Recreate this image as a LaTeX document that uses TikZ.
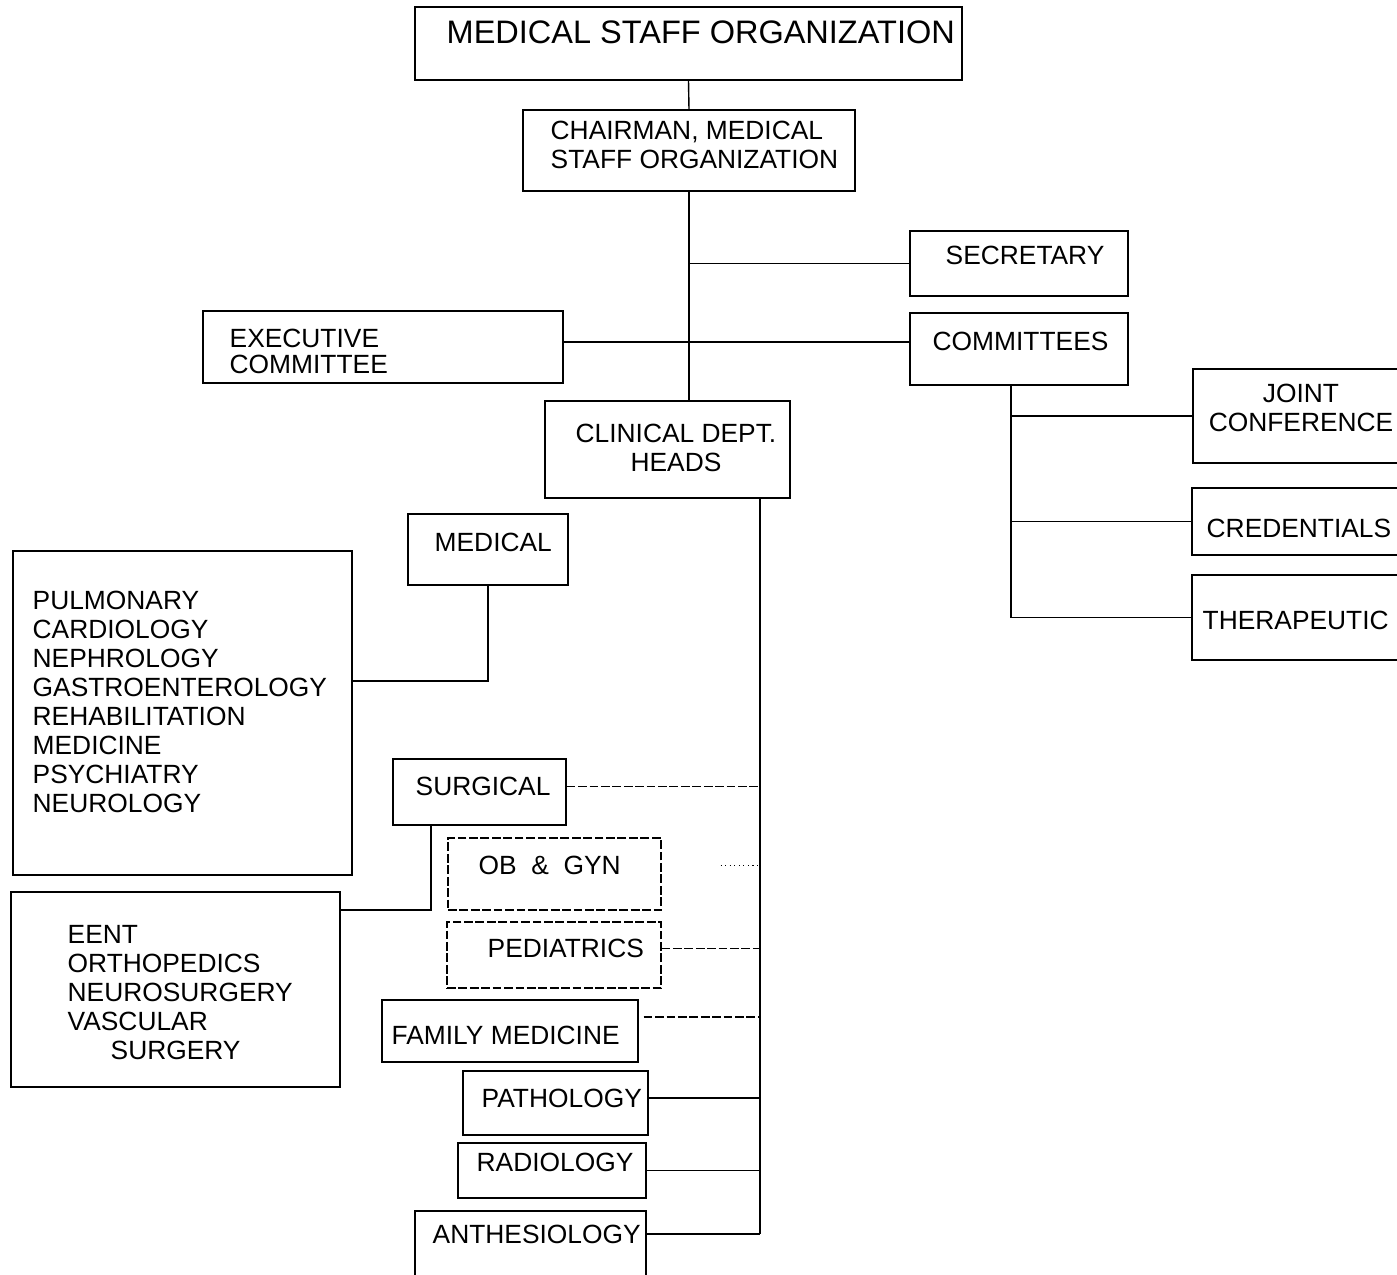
\documentclass[tikz,border=0pt]{standalone}
\usepackage{fontspec}
\setmainfont{Liberation Sans}
\usetikzlibrary{fit}
\newcommand{\bodyfont}{\fontsize{15}{16.5}\selectfont}
\newcommand{\titlefont}{\fontsize{18.5}{21}\selectfont}

\begin{document}
\begin{tikzpicture}[x=0.02cm,y=-0.02cm,line width=0.8pt,
  box/.style={draw,inner sep=0pt},
  faint/.style={line width=0.6pt,dash pattern=on 5pt off 1.5pt},
  lbl/.style={anchor=north west,inner sep=0pt,align=left,font=\bodyfont}]
\useasboundingbox (0,0) rectangle (1397,1275);
\clip (0,0) rectangle (1397,1275);

% top
\node[box,fit={(415,7) (962,80)}] (mso) {};
\node[lbl,font=\titlefont] (msotxt) at (446,20) {MEDICAL STAFF ORGANIZATION};
\node[box,fit={(523,110) (855,191)}] (chair) {};
\node[lbl] (chairtxt) at (550,120) {CHAIRMAN, MEDICAL\\STAFF ORGANIZATION};

\node[box,fit={(910,231) (1128,296)}] (sec) {};
\node[lbl] (sectxt) at (945,245) {SECRETARY};
\node[box,fit={(910,313) (1128,385)}] (comm) {};
\node[lbl] (commtxt) at (932,331) {COMMITTEES};
\node[box,fit={(203,311) (563,383)}] (exec) {};
\node[lbl] (exectxt) at (229,328) {EXECUTIVE\\[-1.5pt]COMMITTEE};
\node[box,fit={(545,401) (790,498)}] (clin) {};
\node[lbl,anchor=north,align=center] (clintxt) at (676,423) {CLINICAL DEPT.\\HEADS};

% committees
\node[box,fit={(1193,369) (1420,463)}] (joint) {};
\node[lbl,anchor=north,align=center] (jointtxt) at (1301,383) {JOINT\\CONFERENCE};
\node[box,fit={(1192,488) (1420,555)}] (cred) {};
\node[lbl] (credtxt) at (1206,518) {CREDENTIALS};
\node[box,fit={(1192,575) (1420,660)}] (ther) {};
\node[lbl] (thertxt) at (1202,610) {THERAPEUTIC};

% departments
\node[box,fit={(408,514) (568,585)}] (med) {};
\node[lbl] (medtxt) at (434,532) {MEDICAL};
\node[box,fit={(13,551) (352,875)}] (medspec) {};
\node[lbl] (medspectxt) at (32,590) {PULMONARY\\CARDIOLOGY\\NEPHROLOGY\\GASTROENTEROLOGY\\REHABILITATION\\MEDICINE\\PSYCHIATRY\\NEUROLOGY};
\node[box,fit={(393,759) (566,825)}] (surg) {};
\node[lbl] (surgtxt) at (415,776) {SURGICAL};
\node[box,fit={(11,892) (340,1087)}] (surgspec) {};
\node[lbl] (surgspectxt) at (67,925) {EENT\\ORTHOPEDICS\\NEUROSURGERY\\VASCULAR\\\hspace*{0.86cm}SURGERY};
\node[box,faint,fit={(448,838) (661,910)}] (ob) {};
\node[lbl] (obtxt) at (478,855) {OB~~\&~~GYN};
\node[box,faint,fit={(447,922) (661,988)}] (ped) {};
\node[lbl] (pedtxt) at (487,938) {PEDIATRICS};
\node[box,fit={(382,1000) (638,1062)}] (fam) {};
\node[lbl] (famtxt) at (391,1025) {FAMILY MEDICINE};
\node[box,fit={(463,1071) (648,1135)}] (path) {};
\node[lbl] (pathtxt) at (481,1088) {PATHOLOGY};
\node[box,fit={(458,1143) (646,1198)}] (rad) {};
\node[lbl] (radtxt) at (476,1152) {RADIOLOGY};
\node[box,fit={(415,1211) (646,1290)}] (anth) {};
\node[lbl] (anthtxt) at (432,1224) {ANTHESIOLOGY};

% lines
\draw (mso.south) -- (chair.north);
\draw (chair.south) -- (chair.south |- clin.north);
\draw (sec.west) -- (sec.west -| chair.south);
\coordinate (ex) at ([yshift=0.1cm]exec.east);
\draw (ex) -- (ex -| comm.west);
\coordinate (cm) at ([xshift=-0.16cm]comm.south);
\draw (cm) |- (joint.west);
\draw (cm) |- (cred.west);
\draw (cm) |- (ther.west);

\coordinate (ctr) at ([xshift=1.85cm]clin.south);
\draw (ctr) -- (ctr |- anthtxt);
\draw (med.south) |- ([yshift=0.64cm]medspec.east);
\draw ([xshift=-0.97cm]surg.south) |- ([yshift=1.59cm]surgspec.east);
\draw[faint] (surg.east |- surgtxt) -- (ctr |- surgtxt);
\coordinate (obc) at ([xshift=1.18cm]ob.east |- obtxt);
\draw[line width=0.6pt,dotted] (obc) -- (ctr |- obtxt);
\draw[faint] (ped.east |- pedtxt) -- (ctr |- pedtxt);
\coordinate (famc) at ([xshift=0.1cm,yshift=0.28cm]fam.east);
\draw[faint] (famc) -- (ctr |- famc);
\draw (path.east |- pathtxt) -- (ctr |- pathtxt);
\draw (rad.east) -- (ctr |- rad.east);
\draw (anth.east |- anthtxt) -- (ctr |- anthtxt);
\end{tikzpicture}
\end{document}
